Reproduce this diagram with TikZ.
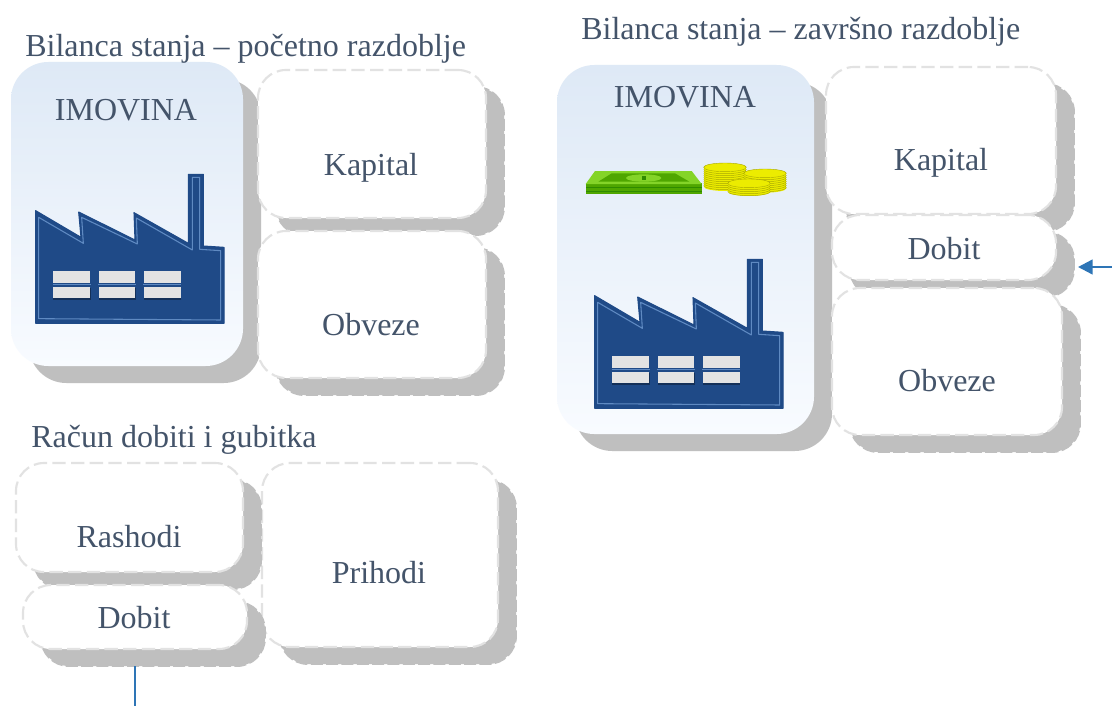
\documentclass[tikz,border=0pt]{standalone}
\usepackage{fontspec}
\setmainfont{Liberation Serif}
\usetikzlibrary{arrows.meta}
\definecolor{txt}{HTML}{44546A}
\definecolor{shade}{HTML}{BFBFBF}
\definecolor{edge}{HTML}{E2E2E2}
\definecolor{link}{HTML}{2E75B6}
\definecolor{fact}{HTML}{1F4A87}
\definecolor{factline}{HTML}{5F8AC2}
\definecolor{glass}{HTML}{E3E3E3}
\definecolor{gtop}{HTML}{DEE9F6}
\definecolor{gbot}{HTML}{F8FBFF}
\definecolor{billa}{HTML}{84D428}
\definecolor{billb}{HTML}{4FA600}
\definecolor{billc}{HTML}{2F8A00}
\definecolor{coina}{HTML}{ECEC00}
\definecolor{coinb}{HTML}{A8A800}
\tikzset{
  x=0.75pt,y=-0.75pt,
  boxbase/.style={rectangle,anchor=north west,inner sep=0pt,outer sep=0pt,rounded corners=21pt},
  whitebox/.style={boxbase,fill=white,draw=edge,line width=1.6pt,dash pattern=on 10pt off 4pt},
  assetbox/.style={boxbase,top color=gtop,bottom color=gbot,rounded corners=28pt},
  shadowbox/.style={boxbase,fill=shade,draw=shade,line width=1.4pt,dash pattern=on 9pt off 2.5pt},
  assetshadow/.style={boxbase,fill=shade,rounded corners=28pt},
  boxtext/.style={text=txt,font=\fontsize{24}{27}\selectfont,inner sep=0pt},
  titletext/.style={boxtext,anchor=base west},
  linkline/.style={draw=link,line width=1.8pt},
  factory/.pic={
    \fill[fact,draw=fact,line width=.8pt,line join=round] (107,152)--(243,232)--(236,156)--(405,240)--(402,158)--(565,250)--(565,43)--(610,43)--(610,258)--(672,262)--(672,490)--(107,490)--cycle;
    \draw[factline,line width=.8pt,line join=round] (116,172)--(250,250)--(245,172)--(412,252)--(409,174)--(577,270)--(577,52)--(599,52)--(599,268)--(662,272)--(662,480)--(116,476)--cycle;
    \foreach \wx in {160,296,432}{
      \fill[black!35!fact] (\wx,385) rectangle ++(112,34);
      \fill[glass] (\wx,334) rectangle ++(110,35);
      \fill[glass] (\wx,380) rectangle ++(110,33);
      \draw[factline,line width=.6pt] (\wx-2,373)--(\wx+112,373);
    }
  },
  money/.pic={
    \fill[billb] (47,100)--(395,100)--(395,132)--(47,132)--cycle;
    \fill[billc] (47,112) rectangle (395,115);
    \fill[billc] (47,122) rectangle (395,125);
    \fill[billa] (75,63)--(365,63)--(395,102)--(47,102)--cycle;
    \fill[billb] (125,70)--(315,70)--(358,95)--(85,95)--cycle;
    \fill[billa] (221,84) ellipse (53 and 11);
    \fill[billc] (216,79) rectangle (227,89);
    \foreach \cx/\ctop/\cbot in {465/52/110,585/70/115,537/100/125}{
      \fill[coina] (\cx-64,\ctop) rectangle (\cx+64,\cbot);
      \fill[coina] (\cx,\cbot) ellipse (64 and 13);
      \foreach \st in {6,12,...,60}{
        \pgfmathsetmacro{\cy}{\ctop+\st}
        \ifdim\cy pt<\cbot pt
          \draw[coinb,line width=.35pt] (\cx-64,\cy) arc[start angle=180,end angle=360,x radius=64,y radius=-13];
        \fi
      }
      \fill[coina,draw=coinb,line width=.3pt] (\cx,\ctop) ellipse (64 and 13);
    }
  }
}
% #1 name, #2 x0, #3 y0, #4 x1, #5 y1, #6 box style, #7 shadow style
\newcommand{\pxbox}[7]{%
  \pgfmathsetlengthmacro{\bw}{(#4-#2)*0.75}%
  \pgfmathsetlengthmacro{\bh}{(#5-#3)*0.75}%
  \node[#7,minimum width=\bw,minimum height=\bh] (#1s) at (#2+18,#3+17) {};
  \node[#6,minimum width=\bw,minimum height=\bh] (#1) at (#2,#3) {};
}
\begin{document}
\begin{tikzpicture}
\useasboundingbox (0,0) rectangle (1112,706);
\fill[white] (0,0) rectangle (1112,706);

% upper left balance sheet
\pxbox{assetL}{11}{62}{243}{366}{assetbox}{assetshadow}
\pxbox{capL}{258}{70}{486}{218}{whitebox}{shadowbox}
\pxbox{debtL}{258}{231}{486}{378}{whitebox}{shadowbox}
% income statement
\pxbox{income}{262}{463}{498}{647}{whitebox}{shadowbox}
\pxbox{cost}{16}{463}{243}{572}{whitebox}{shadowbox}
\pxbox{profitL}{23}{585}{247}{649}{whitebox}{shadowbox}
% right balance sheet
\pxbox{assetR}{557}{65}{814}{434}{assetbox}{assetshadow}
\pxbox{capR}{826}{67}{1056}{214}{whitebox}{shadowbox}
\pxbox{profitR}{832}{215}{1056}{280}{whitebox}{shadowbox}
\pxbox{debtR}{832}{288}{1062}{435}{whitebox}{shadowbox}

\pic[scale=1/3] at (0,160) {factory};
\pic[scale=1/3] at (559,245) {factory};
\pic[scale=1/3] at (570,150) {money};

\node[titletext] (t1) at (25,57) {Bilanca stanja – početno razdoblje};
\node[titletext] (t2) at (581,40) {Bilanca stanja – završno razdoblje};
\node[titletext] (t3) at (31,447) {Račun dobiti i gubitka};
\node[boxtext] (l1) at (126,110) {IMOVINA};
\node[boxtext] (l2) at (371,168) {Kapital};
\node[boxtext] (l3) at (371,325) {Obveze};
\node[boxtext] (l4) at (129,537) {Rashodi};
\node[boxtext] (l5) at (134,618) {Dobit};
\node[boxtext] (l6) at (379,573) {Prihodi};
\node[boxtext] (l7) at (685,97) {IMOVINA};
\node[boxtext] (l8) at (941,163) {Kapital};
\node[boxtext] (l9) at (944,249) {Dobit};
\node[boxtext] (l10) at (947,381) {Obveze};

\coordinate (outL) at (135,706);
\coordinate (outR) at (1112,267);
\coordinate (inR) at (1078,267);
\draw[linkline] (profitLs.south -| outL) -- (outL);
\draw[linkline,-{Triangle[length=11pt,width=11pt]}] (outR) -- (inR);
\end{tikzpicture}
\end{document}
